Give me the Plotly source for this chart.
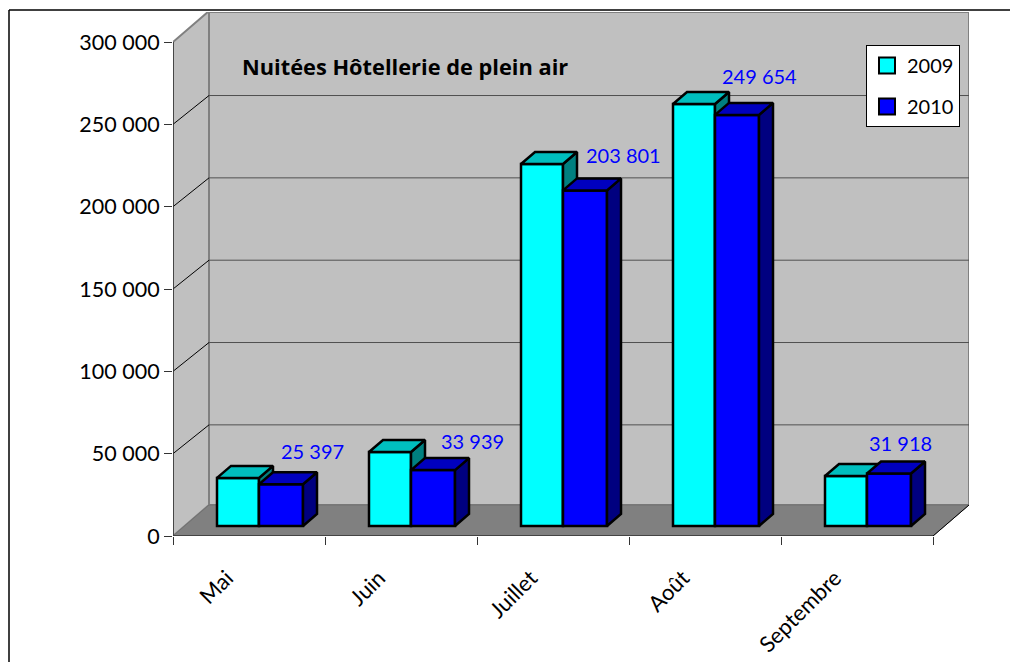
import plotly.graph_objects as go

categories = ["Mai", "Juin", "Juillet", "Août", "Septembre"]
values_2009 = [29200, 44900, 219800, 256300, 30400]
values_2010 = [25397, 33939, 203801, 249654, 31918]
value_labels = ["25 397", "33 939", "203 801", "249 654", "31 918"]
y_ticks = [0, 50000, 100000, 150000, 200000, 250000, 300000]
y_tick_labels = ["0", "50 000", "100 000", "150 000", "200 000", "250 000", "300 000"]

label_dx = [31, 39, 38, 22, 11]
label_dy = [33, 29, 35, 39, 30]

FONT = "Lato, Carlito, Calibri, sans-serif"
PX_X = 152.0
PX_Y = 494 / 300000
L, R, T, B = 173, 969, 12, 536
X_MAX = (R - L) / PX_X
Y_MAX = (B - T) / PX_Y

WALL_DX = 36 / PX_X
WALL_DY = 31 / PX_Y
GRID_DY = 28.8 / PX_Y
BAR_DX = 14 / PX_X
BAR_DY = 12 / PX_Y
BAR_BASE = 10 / PX_Y
W1 = 42 / PX_X
W2 = 44 / PX_X
X1 = (217 - L) / PX_X
X2 = X1 + W1
EDGE = 2.5

fig = go.Figure()


def poly(pts, fill, line, width, layer="below"):
    path = "M" + " L".join(f"{x},{y}" for x, y in pts) + " Z"
    return dict(type="path", path=path, xref="x", yref="y", fillcolor=fill,
                line=dict(color=line, width=width), layer=layer)


def seg(x0, y0, x1, y1, color, width, layer="below"):
    return dict(type="line", xref="x", yref="y", x0=x0, y0=y0, x1=x1, y1=y1,
                line=dict(color=color, width=width), layer=layer)


n = len(categories)
shapes = [
    poly([(0, 0), (WALL_DX, WALL_DY), (WALL_DX, 300000 + WALL_DY), (0, 300000)], "#C0C0C0", "#808080", 2),
    poly([(WALL_DX, WALL_DY), (n + WALL_DX, WALL_DY), (n + WALL_DX, Y_MAX), (WALL_DX, Y_MAX)], "#C0C0C0", "#808080", 2),
    poly([(0, 0), (n, 0), (n + WALL_DX, WALL_DY), (WALL_DX, WALL_DY)], "#808080", "#707070", 1),
]
for v in y_ticks[1:-1]:
    shapes.append(seg(0, v, WALL_DX, v + GRID_DY, "#000000", 1))
    shapes.append(seg(WALL_DX, v + GRID_DY, n + WALL_DX, v + GRID_DY, "#505050", 1))
shapes.append(seg(n, 0, n + WALL_DX, WALL_DY, "#000000", 1))
shapes.append(seg(0, 0, 0, 300000, "#333333", 1.5, "above"))
shapes.append(seg(0, 0, n, 0, "#333333", 1.5, "above"))
# outer frame of the picture
fx = lambda p: (p - L) / (R - L)
fy = lambda p: (B - p) / (B - T)
for a, b, c, d in [(9, 10, 1010, 10), (9, 10, 9, 662)]:
    shapes.append(dict(type="line", xref="paper", yref="paper", x0=fx(a), y0=fy(b), x1=fx(c), y1=fy(d),
                       line=dict(color="#000000", width=1.5)))


def add_series(values, xstart, width, front, top, side, name, xa, ya):
    xs = [i + xstart + width / 2 for i in range(n)]
    fig.add_trace(go.Bar(x=xs, y=values, base=[BAR_BASE] * n, width=width, name=name, showlegend=False,
                         marker=dict(color=front, line=dict(color="#000000", width=EDGE)),
                         xaxis=xa, yaxis=ya, hoverinfo="skip"))
    for i, v in enumerate(values):
        x0 = i + xstart
        x1 = x0 + width
        y1 = v + BAR_BASE
        fig.add_trace(go.Scatter(
            x=[x1, x1 + BAR_DX, x1 + BAR_DX, x1, x1],
            y=[BAR_BASE, BAR_BASE + BAR_DY, y1 + BAR_DY, y1, BAR_BASE],
            mode="lines", fill="toself", fillcolor=side, line=dict(color="#000000", width=EDGE),
            showlegend=False, hoverinfo="skip", xaxis=xa, yaxis=ya))
        fig.add_trace(go.Scatter(
            x=[x0, x0 + BAR_DX, x1 + BAR_DX, x1, x0],
            y=[y1, y1 + BAR_DY, y1 + BAR_DY, y1, y1],
            mode="lines", fill="toself", fillcolor=top, line=dict(color="#000000", width=EDGE),
            showlegend=False, hoverinfo="skip", xaxis=xa, yaxis=ya))


add_series(values_2009, X1, W1, "#00FFFF", "#00BFBF", "#008080", "2009", "x", "y")
add_series(values_2010, X2, W2, "#0000FF", "#0000BF", "#000080", "2010", "x2", "y2")

for name, col in [("2009", "#00FFFF"), ("2010", "#0000FF")]:
    fig.add_trace(go.Scatter(x=[None], y=[None], mode="markers", name=name, legendgroup=name,
                             marker=dict(symbol="square", size=16, color=col, line=dict(color="#000000", width=2)),
                             xaxis="x2", yaxis="y2"))

annotations = []
for i, v in enumerate(values_2010):
    annotations.append(dict(x=i + X2 + W2 / 2, y=v + BAR_BASE, xref="x", yref="y", text=value_labels[i],
                            showarrow=False, xshift=label_dx[i], yshift=label_dy[i],
                            font=dict(family=FONT, size=20, color="#0000FF")))

fig.update_layout(
    width=1010, height=662, margin=dict(l=L, r=1010 - R, t=T, b=662 - B, pad=0),
    paper_bgcolor="#FFFFFF", plot_bgcolor="rgba(0,0,0,0)",
    barmode="overlay", shapes=shapes, annotations=annotations, hovermode=False,
    font=dict(family=FONT, size=19, color="#000000"),
    title=dict(text="<b>Nuitées Hôtellerie de plein air</b>", x=242 / 1010, y=1 - 67 / 662,
               xref="container", yref="container", xanchor="left", yanchor="middle",
               font=dict(family="Open Sans, sans-serif", size=21.8, color="#000000")),
    legend=dict(x=fx(866), y=fy(45), xanchor="left", yanchor="top", bgcolor="#FFFFFF",
                bordercolor="#000000", borderwidth=1, tracegroupgap=12, itemwidth=30,
                font=dict(family=FONT, size=20, color="#000000")),
    xaxis=dict(range=[0, X_MAX], showgrid=False, zeroline=False, showline=False, automargin=False,
               tickmode="array", tickvals=[i + 0.5 for i in range(n)], ticktext=categories,
               tickangle=-45, ticks="", ticklabelstandoff=24, ticklabelshift=-22,
               minor=dict(tickmode="array", tickvals=list(range(n + 1)), ticks="outside",
                          ticklen=8, tickwidth=1, tickcolor="#333333"),
               tickfont=dict(family=FONT, size=22, color="#000000")),
    yaxis=dict(range=[0, Y_MAX], showgrid=False, zeroline=False, showline=False, automargin=False,
               tickmode="array", tickvals=y_ticks, ticktext=y_tick_labels,
               ticks="outside", ticklen=8, tickwidth=1, tickcolor="#333333",
               tickfont=dict(family=FONT, size=21.5, color="#000000")),
    xaxis2=dict(overlaying="x", matches="x", visible=False),
    yaxis2=dict(overlaying="y", matches="y", visible=False),
)

fig.write_html("out.html", config={"displayModeBar": False},
               post_script="document.documentElement.style.overflow='hidden';document.body.style.margin='0';")
